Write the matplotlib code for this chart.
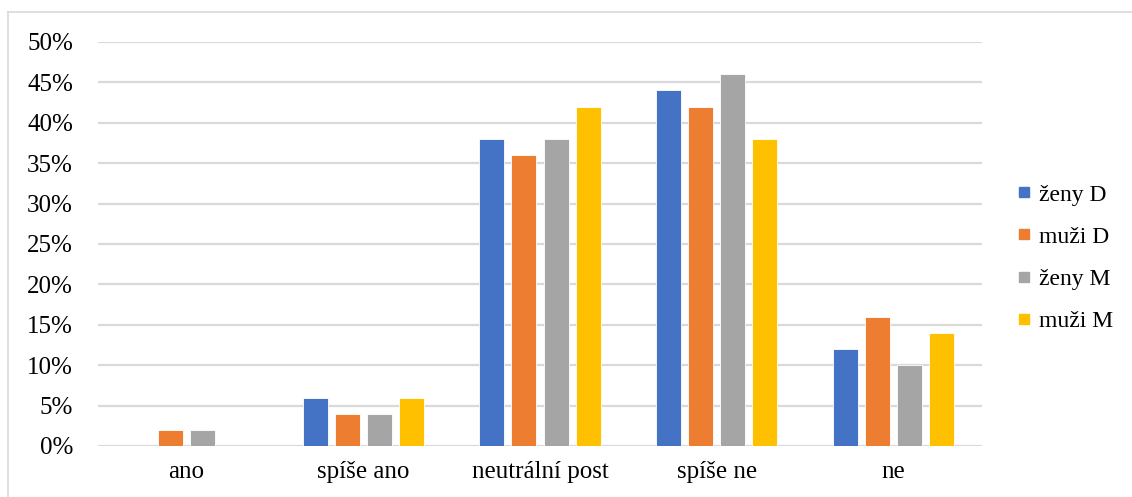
import matplotlib
matplotlib.use("Agg")
import matplotlib.pyplot as plt
from matplotlib.lines import Line2D
from matplotlib.ticker import PercentFormatter
import numpy as np

categories = ["ano", "spíše ano", "neutrální post", "spíše ne", "ne"]
series_names = ["ženy D", "muži D", "ženy M", "muži M"]
zeny_D = [0, 6, 38, 44, 12]
muzi_D = [2, 4, 36, 42, 16]
zeny_M = [2, 4, 38, 46, 10]
muzi_M = [0, 6, 42, 38, 14]
yticks = [0, 5, 10, 15, 20, 25, 30, 35, 40, 45, 50]
colors = ["#4472C4", "#ED7D31", "#A5A5A5", "#FFC000"]

plt.rcParams['font.family'] = ['Liberation Serif', 'DejaVu Serif']

W, H = 1132, 497
fig = plt.figure(figsize=(W / 100, H / 100), dpi=100)
ax = fig.add_axes([98 / W, 1 - 446 / H, (982 - 98) / W, (446 - 42) / H])

x = np.arange(len(categories))
step = 0.181
width = 0.1414
all_series = [zeny_D, muzi_D, zeny_M, muzi_M]
for i, (vals, name, c) in enumerate(zip(all_series, series_names, colors)):
    offs = (i - 1.5) * step
    ax.bar(x + offs, vals, width=width, color=c, edgecolor="white",
           linewidth=0.6, label=name, zorder=2)

ax.set_xlim(-0.5, len(categories) - 0.5)
ax.set_ylim(0, 50)
ax.set_yticks(yticks)
ax.yaxis.set_major_formatter(PercentFormatter(decimals=0))
ax.set_xticks(x)
ax.set_xticklabels(categories)
ax.tick_params(axis='both', length=0, labelsize=18, colors="#000000")
ax.tick_params(axis='y', pad=18)
ax.tick_params(axis='x', pad=11)
ax.grid(axis='y', color="#d9d9d9", linewidth=1.6, zorder=0)
ax.set_axisbelow(True)
for s in ax.spines.values():
    s.set_visible(False)

handles = [Line2D([], [], marker='s', linestyle='', markersize=7.5, color=c)
           for c in colors]
fig.legend(handles, series_names, loc='center left',
           bbox_to_anchor=(1005 / W, 1 - 258 / H), frameon=False,
           fontsize=17, handlelength=0.6, handletextpad=0.35,
           labelspacing=0.87, borderpad=0)

# chart border (top & left visible)
fig.add_artist(Line2D([8 / W, 1], [1 - 12 / H, 1 - 12 / H], color="#d9d9d9",
                      linewidth=1.2, transform=fig.transFigure))
fig.add_artist(Line2D([8 / W, 8 / W], [0, 1 - 12 / H], color="#d9d9d9",
                      linewidth=1.2, transform=fig.transFigure))

fig.savefig("out.png", dpi=100, facecolor="white")
